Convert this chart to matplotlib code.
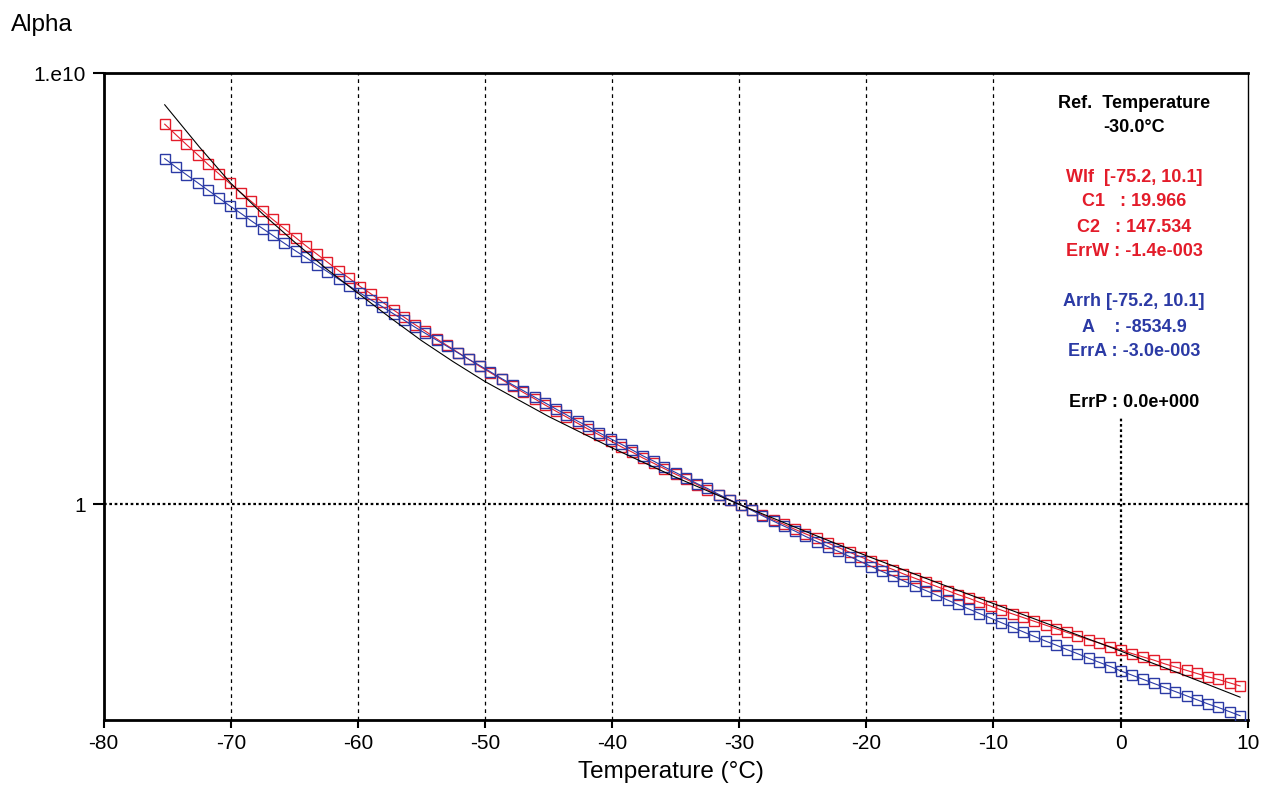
import numpy as np
import matplotlib
matplotlib.use("Agg")
import matplotlib.pyplot as plt

plt.rcParams['font.family'] = ['Liberation Sans', 'DejaVu Sans']
plt.rcParams['axes.unicode_minus'] = False

# measured temperatures (deg C)
temps = [-75.2,-74.3,-73.5,-72.6,-71.8,-70.9,-70.1,-69.2,-68.4,-67.5,
         -66.7,-65.8,-64.9,-64.1,-63.2,-62.4,-61.5,-60.7,-59.8,-59.0,
         -58.1,-57.2,-56.4,-55.5,-54.7,-53.8,-53.0,-52.1,-51.3,-50.4,
         -49.6,-48.7,-47.8,-47.0,-46.1,-45.3,-44.4,-43.6,-42.7,-41.9,
         -41.0,-40.1,-39.3,-38.4,-37.6,-36.7,-35.9,-35.0,-34.2,-33.3,
         -32.5,-31.6,-30.7,-29.9,-29.0,-28.2,-27.3,-26.5,-25.6,-24.8,
         -23.9,-23.0,-22.2,-21.3,-20.5,-19.6,-18.8,-17.9,-17.1,-16.2,
         -15.3,-14.5,-13.6,-12.8,-11.9,-11.1,-10.2,-9.4,-8.5,-7.7,
         -6.8,-5.9,-5.1,-4.2,-3.4,-2.5,-1.7,-0.8,0.0,0.9,
         1.8,2.6,3.5,4.3,5.2,6.0,6.9,7.7,8.6,9.4]

# log10(alpha)
wlf_log = [8.82,8.57,8.35,8.11,7.89,7.66,7.45,7.23,7.03,6.81,
           6.61,6.40,6.19,6.00,5.80,5.62,5.42,5.25,5.05,4.89,
           4.70,4.51,4.35,4.17,4.02,3.84,3.69,3.52,3.37,3.20,
           3.06,2.90,2.74,2.60,2.45,2.31,2.16,2.03,1.88,1.75,
           1.61,1.47,1.34,1.21,1.08,0.95,0.83,0.70,0.59,0.46,
           0.34,0.22,0.10,-0.01,-0.13,-0.24,-0.36,-0.46,-0.58,-0.68,
           -0.79,-0.90,-1.00,-1.11,-1.21,-1.32,-1.41,-1.51,-1.61,-1.71,
           -1.81,-1.90,-2.00,-2.09,-2.18,-2.27,-2.36,-2.45,-2.54,-2.62,
           -2.71,-2.80,-2.88,-2.97,-3.05,-3.14,-3.21,-3.30,-3.37,-3.46,
           -3.54,-3.61,-3.70,-3.77,-3.85,-3.92,-4.00,-4.06,-4.14,-4.21]

arrh_log = [8.02,7.82,7.65,7.46,7.29,7.10,6.93,6.75,6.58,6.40,
            6.24,6.06,5.88,5.73,5.55,5.40,5.22,5.07,4.90,4.75,
            4.59,4.42,4.28,4.11,3.97,3.81,3.67,3.51,3.37,3.22,
            3.08,2.92,2.77,2.64,2.49,2.36,2.21,2.08,1.93,1.81,
            1.66,1.52,1.40,1.26,1.13,1.00,0.87,0.74,0.62,0.48,
            0.37,0.23,0.10,-0.01,-0.14,-0.26,-0.39,-0.50,-0.62,-0.74,
            -0.86,-0.98,-1.09,-1.21,-1.32,-1.44,-1.55,-1.66,-1.77,-1.89,
            -2.00,-2.10,-2.22,-2.32,-2.43,-2.53,-2.64,-2.74,-2.85,-2.95,
            -3.06,-3.17,-3.26,-3.37,-3.46,-3.57,-3.66,-3.76,-3.86,-3.96,
            -4.06,-4.15,-4.25,-4.34,-4.44,-4.53,-4.63,-4.71,-4.81,-4.90]

# black fitted curve
fit_t = [-75.2,-72.5,-70,-67.5,-65,-62.5,-60,-57.5,-55,-52.5,-50,-45,-40,-35,-30,-25,-20,-15,-10,-5,0,5,9.4]
fit_log = [9.27,8.30,7.45,6.74,6.09,5.47,4.90,4.34,3.80,3.31,2.85,2.04,1.31,0.63,0.0,-0.60,-1.19,-1.75,-2.30,-2.85,-3.40,-3.96,-4.47]

red = '#e31c2a'
blue = '#2b3aa5'

fig = plt.figure(figsize=(12.78, 7.88), dpi=100)
ax = fig.add_axes([103.7/1278, 1-720/788, (1247.7-103.7)/1278, (720-73.3)/788])

# grid lines
for xv in [-70, -60, -50, -40, -30, -20, -10]:
    ax.axvline(xv, color='black', lw=0.9, ls=(0, (3, 3)), zorder=1)
ax.axhline(1, color='black', lw=1.6, ls=(0, (1.2, 1.2)), zorder=1)
ax.axvline(0, ymax=0.4685, color='black', lw=1.6, ls=(0, (1.2, 1.2)), zorder=1)

ax.plot(temps, 10**np.array(wlf_log), color=red, lw=0.8, marker='s', ms=7.3,
        mfc='none', mec=red, mew=1.0, zorder=3)
ax.plot(temps, 10**np.array(arrh_log), color=blue, lw=0.8, marker='s', ms=7.3,
        mfc='none', mec=blue, mew=1.0, zorder=4)
ax.plot(fit_t, 10**np.array(fit_log), color='black', lw=0.8, zorder=5)

ax.set_yscale('log')
ax.set_ylim(1e-5, 1e10)
ax.set_xlim(-80, 10)
ax.set_yticks([1e10, 1])
ax.set_yticklabels(['1.e10', '1'])
ax.minorticks_off()
ax.set_xticks(range(-80, 11, 10))
ax.tick_params(axis='x', direction='out', length=6, width=1.5, pad=4, labelsize=15)
ax.tick_params(axis='y', direction='out', length=8, width=1.5, pad=5, labelsize=15)

for s in ['left', 'bottom', 'top']:
    ax.spines[s].set_linewidth(2)
ax.spines['right'].set_linewidth(1)

# annotation block
cx = 1134/1278
lines = [("Ref.  Temperature", 103, 'black'), ("-30.0°C", 128, 'black'),
         ("Wlf  [-75.2, 10.1]", 178, red), ("C1   : 19.966", 202, red),
         ("C2   : 147.534", 227, red), ("ErrW : -1.4e-003", 252, red),
         ("Arrh [-75.2, 10.1]", 302, blue), ("A    : -8534.9", 327, blue),
         ("ErrA : -3.0e-003", 352, blue), ("ErrP : 0.0e+000", 403, 'black')]
for txt, yp, c in lines:
    fig.text(cx, 1-yp/788, txt, color=c, fontsize=13, fontweight='bold',
             ha='center', va='center')

fig.text(11/1278, 1-30.5/788, "Alpha", fontsize=17.5, va='baseline', ha='left')
fig.text(671/1278, 1-778/788, "Temperature (°C)", fontsize=17.5, va='baseline', ha='center')

fig.savefig('out.png', dpi=100)
